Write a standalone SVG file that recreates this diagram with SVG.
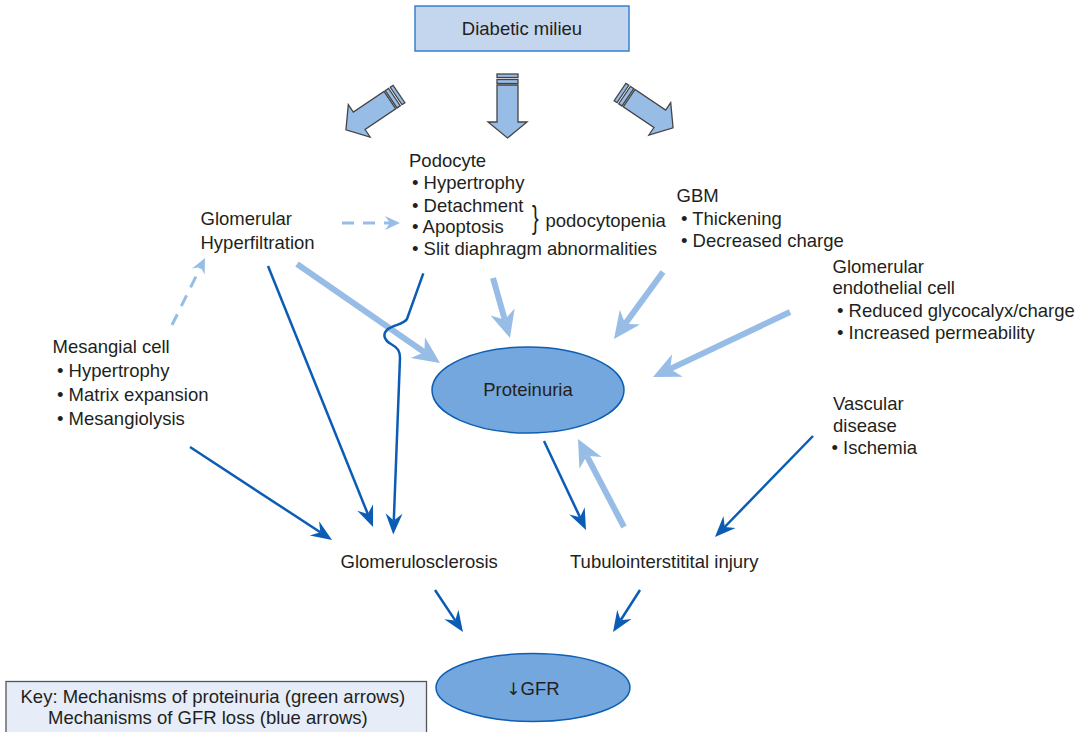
<svg xmlns="http://www.w3.org/2000/svg" width="1087" height="732" viewBox="0 0 1087 732">
<style>
text{font-family:"Liberation Sans",Arial,sans-serif;font-size:18.5px;fill:#231f20}
.dk{fill:none;stroke:#0b5cb5;stroke-width:2.5}
.lt{fill:none;stroke:#97bde6;stroke-width:6}
.ld{fill:none;stroke:#97bde6;stroke-width:3;stroke-dasharray:12 9}
.blk{fill:#97bde6;stroke:#444;stroke-width:1.3;stroke-linejoin:miter}
.ell{fill:#74a7dd;stroke:#0d5fb3;stroke-width:1.5}
</style>
<defs>
<marker id="mDk" markerUnits="userSpaceOnUse" markerWidth="40" markerHeight="40" viewBox="-20 -20 40 40" refX="0" refY="0" orient="auto" overflow="visible">
<path d="M14,0 L-7,-8.5 L0,0 L-7,8.5 Z" fill="#0b5cb5"/>
</marker>
<marker id="mLt" markerUnits="userSpaceOnUse" markerWidth="60" markerHeight="60" viewBox="-30 -30 60 60" refX="0" refY="0" orient="auto" overflow="visible">
<path d="M19,0 L-8,-12.5 L0,0 L-8,12.5 Z" fill="#97bde6"/>
</marker>
<marker id="mLd" markerUnits="userSpaceOnUse" markerWidth="40" markerHeight="40" viewBox="-20 -20 40 40" refX="0" refY="0" orient="auto" overflow="visible">
<path d="M10,0 L-5,-7 L0,0 L-5,7 Z" fill="#97bde6"/>
</marker>
<g id="blockArrow">
<rect class="blk" x="-10.5" y="0" width="21" height="3.5"/>
<rect class="blk" x="-10.5" y="5.5" width="21" height="4"/>
<path class="blk" d="M-10.5,11 L10.5,11 L10.5,48 L19.5,48 L0,64 L-19.5,48 L-10.5,48 Z"/>
</g>
</defs>

<g id="diabetic-milieu">
<rect x="415" y="6" width="214" height="45" fill="#c3d6ee" stroke="#3a80cc" stroke-width="1.5"/>
<text x="522" y="35" text-anchor="middle">Diabetic milieu</text>
</g>

<g id="block-arrows">
<use href="#blockArrow" transform="translate(399,94) rotate(56)"/>
<use href="#blockArrow" transform="translate(507.5,74)"/>
<use href="#blockArrow" transform="translate(620,92) rotate(-56)"/>
</g>

<g id="podocyte">
<text x="409" y="167">Podocyte</text>
<text x="412" y="189">• Hypertrophy</text>
<text x="412" y="211.5">• Detachment</text>
<text x="412" y="233">• Apoptosis</text>
<text x="412" y="255">• Slit diaphragm abnormalities</text>
<text transform="translate(532,228) scale(1,1.6)" style="font-size:20px">}</text>
<text x="545.5" y="227">podocytopenia</text>
</g>

<g id="hyperfiltration">
<text x="200.5" y="225">Glomerular</text>
<text x="200.5" y="249">Hyperfiltration</text>
</g>

<g id="gbm">
<text x="676.5" y="202">GBM</text>
<text x="681" y="224.5">• Thickening</text>
<text x="681" y="246.5">• Decreased charge</text>
</g>

<g id="endothelial">
<text x="832.5" y="272.5">Glomerular</text>
<text x="832.5" y="294">endothelial cell</text>
<text x="837" y="316.5">• Reduced glycocalyx/charge</text>
<text x="837" y="339">• Increased permeability</text>
</g>

<g id="mesangial">
<text x="52.5" y="353">Mesangial cell</text>
<text x="57" y="377">• Hypertrophy</text>
<text x="57" y="401">• Matrix expansion</text>
<text x="57" y="425">• Mesangiolysis</text>
</g>

<g id="vascular">
<text x="833" y="409.5">Vascular</text>
<text x="833" y="431.5">disease</text>
<text x="831.5" y="454">• Ischemia</text>
</g>

<g id="proteinuria">
<ellipse class="ell" cx="528" cy="390" rx="96" ry="43"/>
<text x="528" y="396" text-anchor="middle">Proteinuria</text>
</g>

<g id="glomerulosclerosis">
<text x="340.5" y="568">Glomerulosclerosis</text>
</g>

<g id="tubulointerstitial">
<text x="570" y="568">Tubulointerstitital injury</text>
</g>

<g id="gfr">
<ellipse class="ell" cx="533" cy="687.5" rx="97" ry="34"/>
<text x="533" y="695" text-anchor="middle"><tspan style="font-family:'DejaVu Sans',sans-serif;font-size:17px">↓</tspan>GFR</text>
</g>

<g id="key">
<rect x="6" y="681.5" width="420.5" height="60" fill="#e6edf8" stroke="#555" stroke-width="1.3"/>
<text x="20.5" y="703">Key: Mechanisms of proteinuria (green arrows)</text>
<text x="48" y="724">Mechanisms of GFR loss (blue arrows)</text>
</g>

<g id="connectors">
<path class="lt" d="M297,264 L424.4,352.2" marker-end="url(#mLt)"/>
<path class="lt" d="M493,278 L504.8,319.7" marker-end="url(#mLt)"/>
<path class="lt" d="M663,272 L625.2,323.7" marker-end="url(#mLt)"/>
<path class="lt" d="M790,312 L670.2,368.9" marker-end="url(#mLt)"/>
<path class="lt" d="M624,527 L586.8,455.8" marker-end="url(#mLt)"/>
<path class="ld" d="M172,325 L200.6,267" marker-end="url(#mLd)"/>
<path class="ld" d="M342,223 L390,223" marker-end="url(#mLd)"/>
<path class="dk" d="M268,266 L367.8,514" marker-end="url(#mDk)"/>
<path class="dk" d="M190,447 L320.3,532.3" marker-end="url(#mDk)"/>
<path class="dk" d="M423.3,273.3 L407,319 C404,324 394,325 388,329 C382,334 384,340 391,344 C398,348 400,351 400,358 L393.8,520.5" marker-end="url(#mDk)"/>
<path class="dk" d="M544,441 L580,517.3" marker-end="url(#mDk)"/>
<path class="dk" d="M813,436 L724.7,527" marker-end="url(#mDk)"/>
<path class="dk" d="M435,590 L455.2,620.4" marker-end="url(#mDk)"/>
<path class="dk" d="M640,590 L620.6,620.2" marker-end="url(#mDk)"/>
</g>
</svg>
